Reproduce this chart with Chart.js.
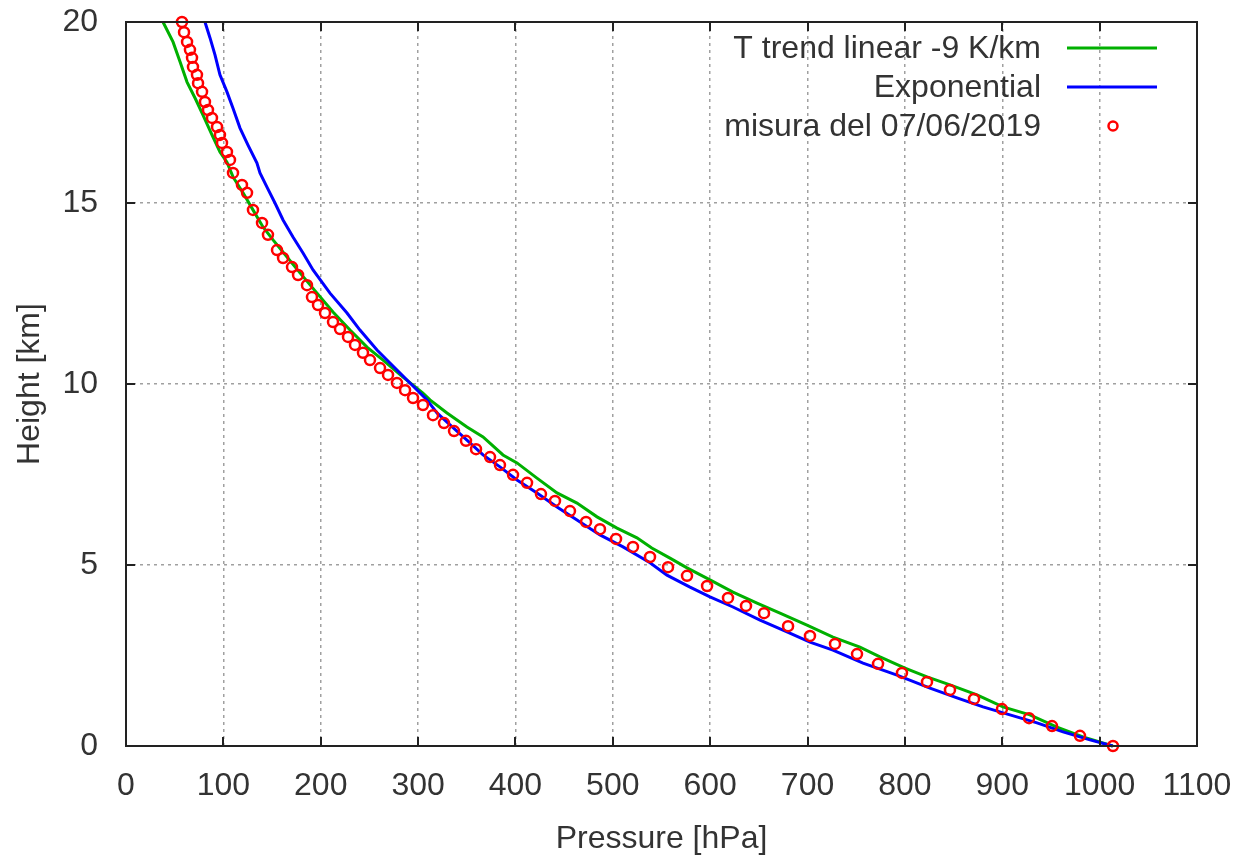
<!DOCTYPE html>
<html>
<head>
<meta charset="utf-8">
<script src="https://cdn.jsdelivr.net/npm/chart.js@4"></script>
<style>
  html, body { margin: 0; padding: 0; background: #fff; }
  #wrap { width: 1247px; height: 861px; }
</style>
</head>
<body>
<div id="wrap"><canvas id="chart" width="1247" height="861"></canvas></div>
<script>
// Series: pressure [hPa] vs height [km]
const linearP = [38, 48.3, 55.5, 62.7, 70.9, 79.1, 88.3, 96.5, 103.7, 109.9, 120.2, 130.4, 140.7, 151, 165.4, 178.7, 196.2, 212.6, 230.1, 247.5, 264, 284.5, 305, 312.2, 329.7, 350.2, 366.7, 387.2, 401.6, 422.1, 442.7, 463.2, 483.8, 504.3, 524.8, 540, 558.7, 576.2, 599.8, 623.4, 648.1, 671.7, 699.4, 726.1, 753.8, 774.4, 800.1, 822.7, 846.3, 874, 900.7, 928.4, 956.2, 982.9, 1013.5];
const linearH = [20, 19.45, 18.9, 18.34, 17.9, 17.43, 16.88, 16.41, 16.13, 15.72, 15.28, 14.81, 14.34, 13.98, 13.51, 13.07, 12.51, 11.99, 11.49, 11.02, 10.66, 10.19, 9.75, 9.56, 9.2, 8.81, 8.54, 8.04, 7.82, 7.4, 6.99, 6.71, 6.33, 6.02, 5.75, 5.47, 5.19, 4.92, 4.59, 4.25, 3.95, 3.67, 3.34, 3.01, 2.73, 2.46, 2.15, 1.91, 1.69, 1.41, 1.08, 0.86, 0.52, 0.25, 0];

const expP = [81.1, 86.3, 91.4, 96.5, 103.7, 109.9, 117.1, 125.3, 134.5, 137.6, 144.8, 153, 161.3, 171.5, 181.8, 192.1, 209.5, 227, 240.3, 257.8, 271.1, 288.6, 309.2, 319.4, 332.8, 350.2, 366.7, 384.1, 401.6, 422.1, 442.7, 463.2, 486.8, 510.5, 538.2, 555.6, 579.3, 599.8, 623.4, 651.2, 678.9, 702.5, 726.1, 757, 791.9, 825.8, 853.5, 880.2, 907.9, 935.7, 962.4, 990.1, 1013.5];
const expH = [20, 19.56, 19.09, 18.54, 18.07, 17.62, 17.07, 16.6, 16.1, 15.83, 15.44, 15, 14.53, 14.06, 13.62, 13.15, 12.51, 11.96, 11.49, 10.94, 10.58, 10.11, 9.56, 9.2, 8.87, 8.45, 8.04, 7.71, 7.35, 6.99, 6.6, 6.24, 5.83, 5.5, 5.06, 4.72, 4.39, 4.12, 3.84, 3.48, 3.15, 2.87, 2.65, 2.29, 1.96, 1.6, 1.33, 1.08, 0.86, 0.64, 0.39, 0.17, 0];

const measP = [57.5, 59.6, 62.7, 65.7, 67.8, 68.8, 72.9, 74, 78.1, 81.1, 84.2, 88.3, 93.5, 96.5, 98.6, 103.7, 106.8, 109.9, 119.1, 124.3, 130.4, 139.7, 145.8, 155.1, 161.3, 170.5, 176.7, 185.9, 191, 197.2, 204.4, 212.6, 219.8, 228, 235.2, 243.4, 250.6, 260.9, 269.1, 278.3, 286.6, 294.8, 305, 315.3, 326.6, 336.9, 349.2, 359.5, 373.9, 384.1, 397.5, 411.9, 426.2, 440.6, 456, 472.5, 486.8, 503.3, 520.7, 538.2, 556.7, 576.2, 596.8, 618.3, 636.8, 655.3, 680, 702.5, 728.2, 750.8, 772.4, 797, 822.7, 846.3, 871, 899.7, 927.5, 951.1, 979.8, 1013.7];
const measH = [20, 19.72, 19.45, 19.23, 19.01, 18.76, 18.54, 18.31, 18.07, 17.79, 17.57, 17.35, 17.1, 16.88, 16.66, 16.41, 16.19, 15.83, 15.5, 15.28, 14.81, 14.45, 14.12, 13.7, 13.48, 13.23, 13.01, 12.73, 12.4, 12.18, 11.96, 11.71, 11.52, 11.3, 11.08, 10.86, 10.66, 10.44, 10.25, 10.03, 9.83, 9.61, 9.42, 9.14, 8.92, 8.7, 8.43, 8.2, 7.98, 7.76, 7.49, 7.27, 6.96, 6.77, 6.49, 6.19, 5.99, 5.72, 5.5, 5.22, 4.94, 4.7, 4.42, 4.09, 3.87, 3.67, 3.31, 3.04, 2.82, 2.54, 2.27, 2.02, 1.77, 1.55, 1.3, 1.02, 0.77, 0.55, 0.28, 0];

const seriesNames = ["T trend linear -9 K/km", "Exponential", "misura del 07/06/2019"];
const xTicksMax = 1100, xStep = 100;
const yTicksMax = 20, yStep = 5;

const FONT = "'Liberation Sans', Arial, sans-serif";
const FSIZE = 32;
const TEXT = "#333333";

const toPoints = (xs, ys) => xs.map((x, i) => ({ x: x, y: ys[i] }));

// gnuplot-style frame with inward ticks on all four sides
const framePlugin = {
  id: "frame",
  afterDraw(chart) {
    const { ctx, chartArea: a, scales } = chart;
    ctx.save();
    ctx.strokeStyle = "#222";
    ctx.lineWidth = 2;
    const tl = 9;
    ctx.beginPath();
    scales.x.ticks.forEach(t => {
      const px = Math.round(scales.x.getPixelForValue(t.value));
      ctx.moveTo(px, a.bottom); ctx.lineTo(px, a.bottom - tl);
      ctx.moveTo(px, a.top); ctx.lineTo(px, a.top + tl);
    });
    scales.y.ticks.forEach(t => {
      const py = Math.round(scales.y.getPixelForValue(t.value));
      ctx.moveTo(a.left, py); ctx.lineTo(a.left + tl, py);
      ctx.moveTo(a.right, py); ctx.lineTo(a.right - tl, py);
    });
    ctx.stroke();
    ctx.strokeRect(a.left, a.top, a.right - a.left, a.bottom - a.top);
    ctx.restore();
  }
};

// legend at top right: right-aligned label, then sample
const keyPlugin = {
  id: "key",
  afterDraw(chart) {
    const { ctx } = chart;
    const order = [1, 2, 0];
    ctx.save();
    ctx.font = FSIZE + "px " + FONT;
    ctx.fillStyle = TEXT;
    ctx.textAlign = "right";
    ctx.textBaseline = "middle";
    order.forEach((di, row) => {
      const ds = chart.data.datasets[di];
      const y = 48 + row * 39;
      ctx.fillText(ds.label, 1041, y + 1);
      ctx.strokeStyle = ds.borderColor;
      ctx.beginPath();
      if (ds.showLine) {
        ctx.lineWidth = 3;
        ctx.moveTo(1067, y); ctx.lineTo(1157, y);
      } else {
        ctx.lineWidth = 2.5;
        ctx.arc(1113, y, 4.5, 0, Math.PI * 2);
      }
      ctx.stroke();
    });
    ctx.restore();
  }
};

new Chart(document.getElementById("chart"), {
  type: "scatter",
  data: {
    datasets: [
      {
        label: seriesNames[2],
        data: toPoints(measP, measH),
        showLine: false,
        borderColor: "#ff0000",
        backgroundColor: "rgba(0,0,0,0)",
        pointRadius: 5,
        pointBorderWidth: 2.5,
        order: 0
      },
      {
        label: seriesNames[0],
        data: toPoints(linearP, linearH),
        showLine: true,
        borderColor: "#00b000",
        borderWidth: 3,
        pointRadius: 0,
        tension: 0,
        order: 2
      },
      {
        label: seriesNames[1],
        data: toPoints(expP, expH),
        showLine: true,
        borderColor: "#0000ff",
        borderWidth: 3,
        pointRadius: 0,
        tension: 0,
        order: 1
      }
    ]
  },
  options: {
    responsive: false,
    animation: false,
    clip: false,
    layout: { padding: { top: 22, right: 50, left: 0, bottom: 0 } },
    plugins: {
      legend: { display: false },
      tooltip: { enabled: false }
    },
    scales: {
      x: {
        type: "linear",
        min: 0,
        max: xTicksMax,
        afterFit: s => {
          s.height = 115;
          s.paddingLeft = 0; s.paddingRight = 0;
        },
        ticks: {
          stepSize: xStep,
          padding: 21,
          color: TEXT,
          font: { family: FONT, size: FSIZE },
          maxRotation: 0,
          callback: v => String(v)
        },
        grid: { color: "#a0a0a0", lineWidth: 1.5, drawTicks: false },
        border: { display: false, dash: [3, 4] },
        title: {
          display: true,
          text: "Pressure [hPa]",
          color: TEXT,
          font: { family: FONT, size: FSIZE },
          padding: { bottom: 3, top: 0 }
        }
      },
      y: {
        type: "linear",
        min: 0,
        max: yTicksMax,
        afterFit: s => {
          s.width = 126;
          s.paddingTop = 0; s.paddingBottom = 0;
        },
        ticks: {
          stepSize: yStep,
          padding: 28,
          color: TEXT,
          font: { family: FONT, size: FSIZE }
        },
        grid: { color: "#a0a0a0", lineWidth: 1.5, drawTicks: false },
        border: { display: false, dash: [3, 4] },
        title: {
          display: true,
          text: "Height [km]",
          color: TEXT,
          font: { family: FONT, size: FSIZE },
          padding: { top: 11, bottom: 0 }
        }
      }
    }
  },
  plugins: [framePlugin, keyPlugin]
});
</script>
</body>
</html>
